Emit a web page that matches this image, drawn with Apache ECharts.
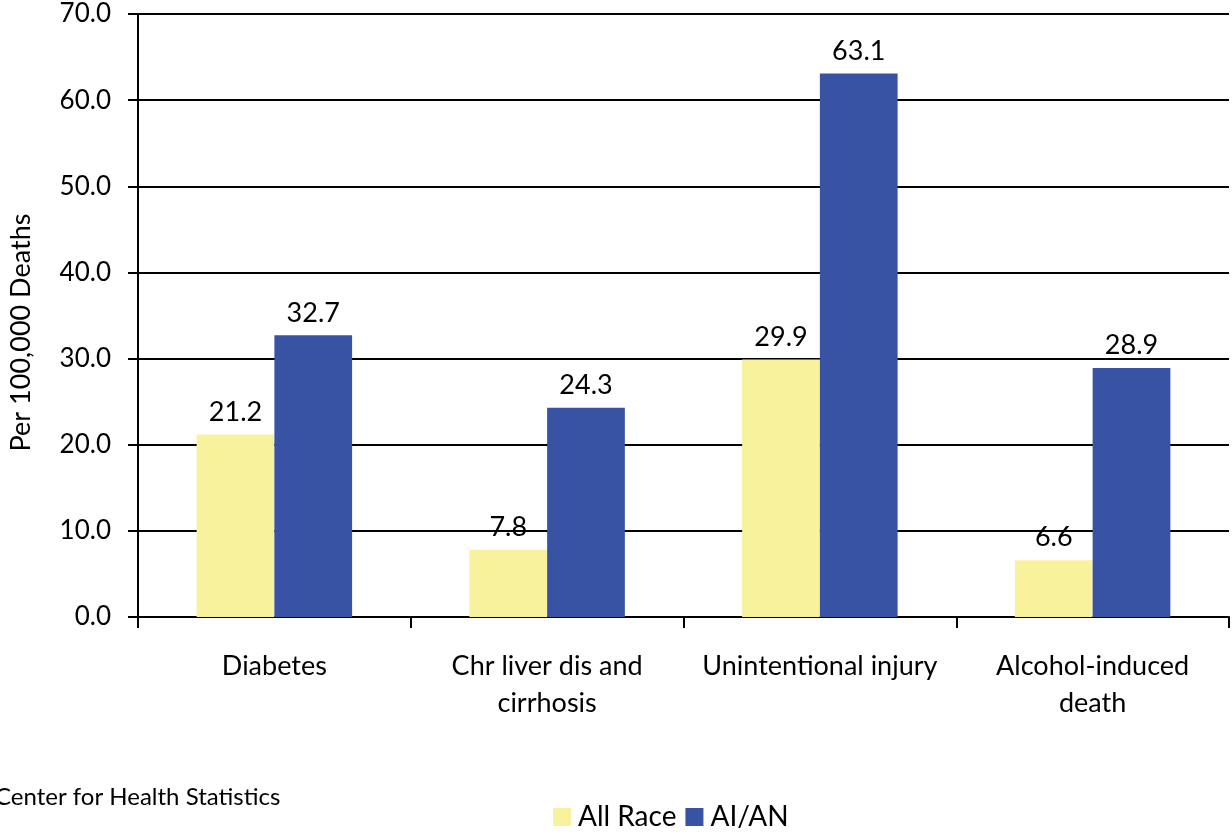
<!DOCTYPE html>
<html><head><meta charset="utf-8">
<script src="https://cdn.jsdelivr.net/npm/echarts@6/dist/echarts.min.js"></script>
<style>html,body{margin:0;padding:0;background:#fff}#c{width:1232px;height:832px}</style>
</head><body><div id="c"></div>
<script>
const categories = ["Diabetes", "Chr liver dis and\ncirrhosis", "Unintentional injury", "Alcohol-induced\ndeath"];
const allRace = [21.2, 7.8, 29.9, 6.6];
const aian = [32.7, 24.3, 63.1, 28.9];
const seriesNames = ["All Race", "AI/AN"];
const FONT = "Lato, 'Open Sans', sans-serif";
const chart = echarts.init(document.getElementById('c'));
const lbl = {show: true, position: 'top', distance: 9, color: '#000', fontSize: 27, fontFamily: FONT, formatter: p => p.value.toFixed(1)};
chart.setOption({
  animation: false,
  grid: {left: 138, top: 14, right: 3, bottom: 215, containLabel: false, outerBoundsMode: 'none'},
  legend: {
    data: seriesNames, top: 798, left: 548, itemWidth: 18, itemHeight: 18, itemGap: 9,
    icon: 'rect', textStyle: {fontSize: 28, fontFamily: FONT, color: '#000', padding: [0, 0, 0, 2]}
  },
  xAxis: {
    type: 'category', data: categories,
    axisLine: {lineStyle: {color: '#000', width: 2}},
    axisTick: {show: true, length: 11, lineStyle: {color: '#000', width: 2}},
    axisLabel: {fontSize: 27, fontFamily: FONT, color: '#000', margin: 31, lineHeight: 37, interval: 0}
  },
  yAxis: {
    type: 'value', min: 0, max: 70, interval: 10,
    name: 'Per 100,000 Deaths', nameLocation: 'middle', nameGap: 103, nameRotate: 90,
    nameTextStyle: {fontSize: 27, fontFamily: FONT, color: '#000', padding: [0, 34, 0, 0]},
    axisLine: {show: true, lineStyle: {color: '#000', width: 2}},
    axisTick: {show: true, length: 10, lineStyle: {color: '#000', width: 2}},
    axisLabel: {fontSize: 26, fontFamily: FONT, color: '#000', margin: 27, formatter: v => v.toFixed(1)},
    splitLine: {show: true, lineStyle: {color: '#000', width: 2}}
  },
  series: [
    {name: seriesNames[0], type: 'bar', data: allRace, barGap: '0%', barCategoryGap: '43%', itemStyle: {color: '#F8F29C'}, label: lbl},
    {name: seriesNames[1], type: 'bar', data: aian, itemStyle: {color: '#3953A4'}, label: lbl}
  ],
  graphic: [{type: 'text', left: -5, top: 785, style: {text: 'Center for Health Statistics', fontSize: 24, fontFamily: FONT, fill: '#000'}}]
});
</script></body></html>
